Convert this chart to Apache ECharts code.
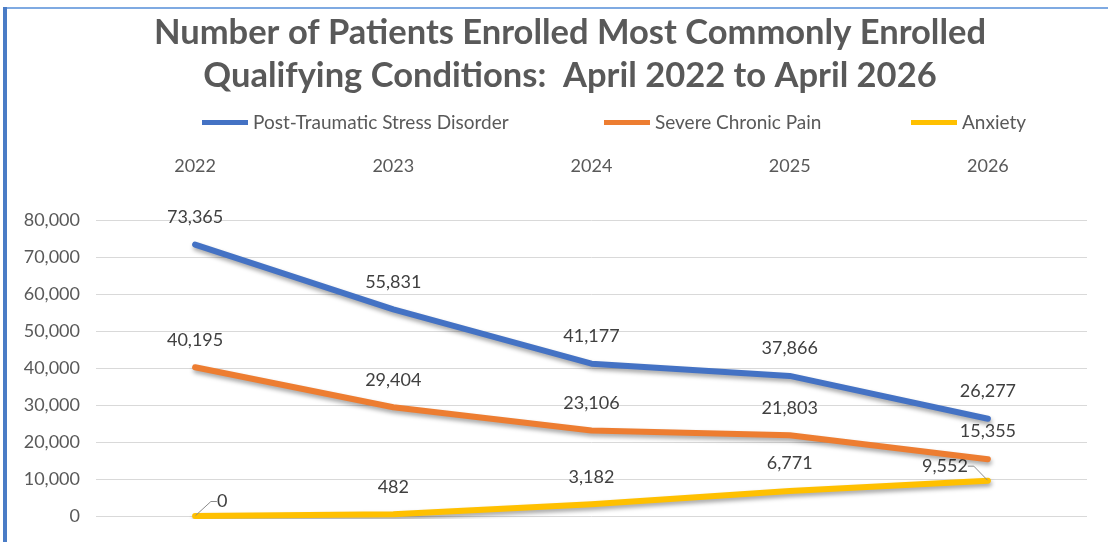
<!DOCTYPE html>
<html>
<head>
<meta charset="utf-8">
<style>
  html, body { margin: 0; padding: 0; background: #fff; }
  #chart { width: 1108px; height: 542px; }
</style>
<script src="https://cdn.jsdelivr.net/npm/echarts@6/dist/echarts.min.js"></script>
</head>
<body>
<div id="chart"></div>
<script>
// Enrollment by year for the three most common qualifying conditions
const years = ['2022', '2023', '2024', '2025', '2026'];
const ptsd = [73365, 55831, 41177, 37866, 26277];
const chronicPain = [40195, 29404, 23106, 21803, 15355];
const anxiety = [0, 482, 3182, 6771, 9552];
const seriesNames = ['Post-Traumatic Stress Disorder', 'Severe Chronic Pain', 'Anxiety'];
const colors = ['#4472C4', '#ED7D31', '#FFC000'];

const FONT = 'Lato, "Open Sans", sans-serif';
const TEXT = '#595959';

// labels lifted higher than the default spot
const labelShift = {
  '0-0': [0, -25]
};
// labels moved aside, joined to their point by a leader line
const labelMove = {
  '2-0': [27, 13],
  '2-4': [-43, 13]
};

function buildData(values, si) {
  return values.map((v, i) => {
    const key = si + '-' + i;
    const item = { value: v };
    if (labelShift[key]) {
      item.label = { offset: labelShift[key] };
    }
    if (labelMove[key]) {
      item.labelLine = {
        show: true,
        length2: 6,
        lineStyle: { color: '#8c8c8c', width: 1 }
      };
    }
    return item;
  });
}

function lineSeries(name, values, si) {
  return {
    name: name,
    type: 'line',
    data: buildData(values, si),
    symbol: 'circle',
    symbolSize: 1,
    showSymbol: true,
    lineStyle: {
      width: 6,
      color: colors[si],
      cap: 'round',
      join: 'round',
      shadowColor: 'rgba(0,0,0,0.35)',
      shadowBlur: 4,
      shadowOffsetX: 1,
      shadowOffsetY: 3
    },
    itemStyle: { color: colors[si] },
    label: {
      show: true,
      position: 'top',
      distance: 18,
      fontFamily: FONT,
      fontSize: 18,
      color: '#404040',
      formatter: p => Number(p.value).toLocaleString('en-US')
    },
    labelLayout: params => {
      const m = labelMove[params.seriesIndex + '-' + params.dataIndex];
      return m ? { dx: m[0], dy: m[1] } : {};
    },
    z: 3 - si
  };
}

const legendLefts = [202, 604, 911];

const chart = echarts.init(document.getElementById('chart'), null, { renderer: 'canvas' });
chart.setOption({
  animation: false,
  backgroundColor: '#ffffff',
  title: {
    text: 'Number of Patients Enrolled Most Commonly Enrolled\nQualifying Conditions:  April 2022 to April 2026',
    left: 570,
    top: 11,
    padding: 0,
    textAlign: 'center',
    textStyle: {
      fontFamily: FONT,
      fontWeight: 'bold',
      fontSize: 34.5,
      lineHeight: 43,
      color: TEXT
    }
  },
  legend: seriesNames.map((n, i) => ({
    data: [n],
    left: legendLefts[i],
    top: 113,
    padding: 0,
    itemWidth: 46,
    itemHeight: 5,
    icon: 'rect',
    itemGap: 0,
    textStyle: { fontFamily: FONT, fontSize: 19, color: TEXT }
  })),
  grid: { left: 96, right: 21, top: 220, bottom: 26, containLabel: false },
  xAxis: {
    type: 'category',
    data: years,
    position: 'top',
    boundaryGap: true,
    axisLine: { show: false },
    axisTick: { show: false },
    axisLabel: { fontFamily: FONT, fontSize: 18, color: TEXT, margin: 45 }
  },
  yAxis: {
    type: 'value',
    min: 0,
    max: 80000,
    interval: 10000,
    axisLine: { show: false },
    axisTick: { show: false },
    splitLine: { lineStyle: { color: '#d9d9d9', width: 1 } },
    axisLabel: {
      fontFamily: FONT,
      fontSize: 18,
      color: TEXT,
      margin: 16,
      formatter: v => v.toLocaleString('en-US')
    }
  },
  series: [
    lineSeries(seriesNames[0], ptsd, 0),
    lineSeries(seriesNames[1], chronicPain, 1),
    lineSeries(seriesNames[2], anxiety, 2)
  ],
  graphic: [
    { type: 'rect', shape: { x: 3, y: 7, width: 1105, height: 2 }, style: { fill: '#7FAAE2' }, silent: true },
    { type: 'rect', shape: { x: 3, y: 7, width: 4, height: 535 }, style: { fill: '#4A7CC6' }, silent: true }
  ]
});
</script>
</body>
</html>
